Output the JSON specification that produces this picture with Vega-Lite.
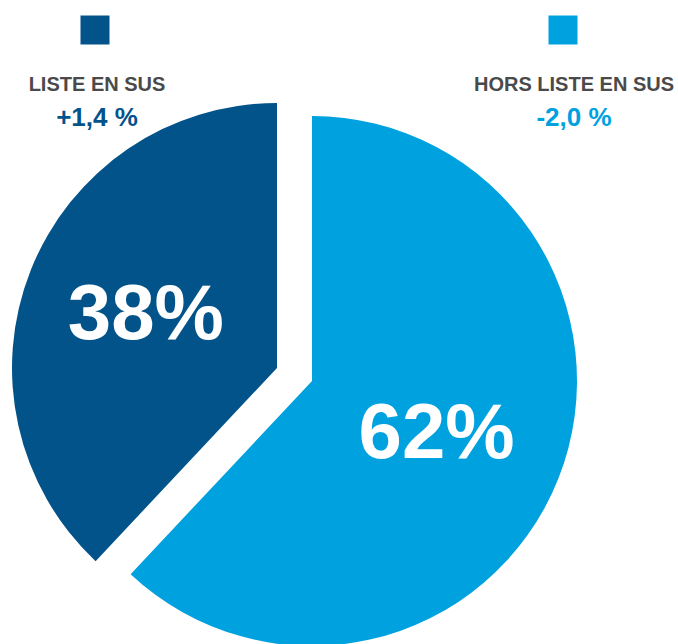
{
  "$schema": "https://vega.github.io/schema/vega-lite/v6.json",
  "width": 678,
  "height": 644,
  "autosize": {"type": "fit", "contains": "padding"},
  "padding": 0,
  "background": "white",
  "config": {"view": {"stroke": null}, "font": "Liberation Sans"},
  "data": {
    "values": [
      {"key": "hors", "label": "HORS LISTE EN SUS", "share": 62, "change": "-2,0 %", "order": 1},
      {"key": "liste", "label": "LISTE EN SUS", "share": 38, "change": "+1,4 %", "order": 2}
    ]
  },
  "transform": [
    {"stack": "share", "groupby": [], "sort": [{"field": "order", "order": "ascending"}], "as": ["v0", "v1"]},
    {"calculate": "(datum.v0 + datum.v1) / 2", "as": "mid"},
    {"calculate": "datum.share + '%'", "as": "pct"}
  ],
  "resolve": {"scale": {"x": "independent"}},
  "layer": [
    {
      "transform": [{"filter": "datum.key === 'hors'"}],
      "mark": {"type": "arc", "radius": 265, "xOffset": -27, "yOffset": 61},
      "encoding": {
        "theta": {"field": "v0", "type": "quantitative", "scale": {"domain": [0, 100]}},
        "theta2": {"field": "v1"},
        "color": {"field": "key", "type": "nominal", "scale": {"domain": ["liste", "hors"], "range": ["#03538B", "#00A1DF"]}, "legend": null}
      }
    },
    {
      "transform": [{"filter": "datum.key === 'liste'"}],
      "mark": {"type": "arc", "radius": 265, "xOffset": -62, "yOffset": 48},
      "encoding": {
        "theta": {"field": "v0", "type": "quantitative", "scale": {"domain": [0, 100]}},
        "theta2": {"field": "v1"},
        "color": {"field": "key", "type": "nominal", "scale": {"domain": ["liste", "hors"], "range": ["#03538B", "#00A1DF"]}, "legend": null}
      }
    },
    {
      "transform": [{"filter": "datum.key === 'hors'"}],
      "mark": {"type": "text", "radius": 134, "xOffset": -27, "yOffset": 61, "dy": 5, "fontSize": 78, "fontWeight": "bold", "color": "white", "align": "center", "baseline": "middle"},
      "encoding": {
        "theta": {"field": "mid", "type": "quantitative", "scale": {"domain": [0, 100]}},
        "text": {"field": "pct"}
      }
    },
    {
      "transform": [{"filter": "datum.key === 'liste'"}],
      "mark": {"type": "text", "radius": 141, "xOffset": -62, "yOffset": 48, "fontSize": 78, "fontWeight": "bold", "color": "white", "align": "center", "baseline": "middle"},
      "encoding": {
        "theta": {"field": "mid", "type": "quantitative", "scale": {"domain": [0, 100]}},
        "text": {"field": "pct"}
      }
    },
    {
      "mark": {"type": "point", "shape": "square", "filled": true, "size": 841, "opacity": 1, "strokeWidth": 0},
      "encoding": {
        "x": {"field": "key", "type": "nominal", "scale": {"type": "point", "padding": 0, "domain": ["liste", "hors"], "range": [95, 563]}, "axis": null},
        "y": {"value": 30},
        "color": {"field": "key", "type": "nominal", "scale": {"domain": ["liste", "hors"], "range": ["#03538B", "#00A1DF"]}, "legend": null}
      }
    },
    {
      "mark": {"type": "text", "fontSize": 20, "fontWeight": "bold", "color": "#4A4A4A", "align": "center", "baseline": "alphabetic"},
      "encoding": {
        "x": {"field": "key", "type": "nominal", "scale": {"type": "point", "padding": 0, "domain": ["liste", "hors"], "range": [97, 574]}, "axis": null},
        "y": {"value": 91},
        "text": {"field": "label"}
      }
    },
    {
      "mark": {"type": "text", "fontSize": 26, "fontWeight": "bold", "align": "center", "baseline": "alphabetic"},
      "encoding": {
        "x": {"field": "key", "type": "nominal", "scale": {"type": "point", "padding": 0, "domain": ["liste", "hors"], "range": [97, 574]}, "axis": null},
        "y": {"value": 126},
        "text": {"field": "change"},
        "color": {"field": "key", "type": "nominal", "scale": {"domain": ["liste", "hors"], "range": ["#03538B", "#00A1DF"]}, "legend": null}
      }
    }
  ]
}
